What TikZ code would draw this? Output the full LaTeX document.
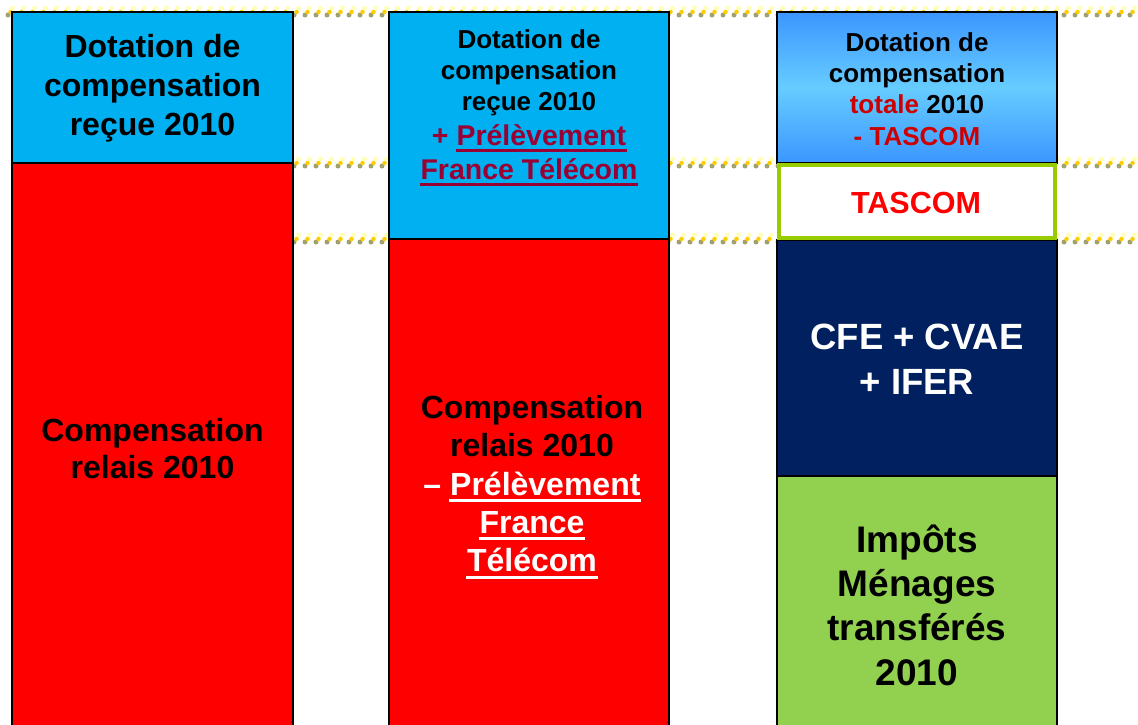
\documentclass[tikz,border=0pt]{standalone}
\usepackage{fontspec}
\setmainfont{Liberation Sans}
\definecolor{lblue}{RGB}{0,176,240}
\definecolor{myred}{RGB}{255,0,0}
\definecolor{navy}{RGB}{0,32,96}
\definecolor{lgreen}{RGB}{146,208,80}
\definecolor{tgreen}{RGB}{153,204,0}
\definecolor{plum}{RGB}{153,0,51}
\definecolor{dred}{RGB}{204,0,0}
\definecolor{gtop}{RGB}{60,150,255}
\definecolor{gmid}{RGB}{102,204,255}
\definecolor{dotyel}{RGB}{255,204,0}
\definecolor{dotgray}{RGB}{160,160,112}
\definecolor{dotpale}{RGB}{255,255,185}
\newcommand\myul[1]{\setbox0\hbox{#1}\rlap{\hspace{-0.03em}\raisebox{-0.21em}{\rule{\dimexpr\wd0+0.06em\relax}{0.095em}}}\box0}
\tikzset{
  colbox/.style={draw=black, line width=2pt, inner sep=0pt, minimum width=281pt},
  dotline/.style={line width=5pt, line cap=round, dash pattern=on 0pt off 11pt},
  lbl/.style={align=center, inner sep=0pt, font=\bfseries},
}
\begin{document}
\begin{tikzpicture}[x=1pt, y=-1pt]
\useasboundingbox (0,0) rectangle (1138,725);
\clip (0,0) rectangle (1138,725);
% dotted guide lines
\foreach \yy/\nm/\xs in {12/a/10.5,163/b/296.5,239/c/296.5}{
  \coordinate (p\nm1) at (\xs+2,\yy-4);
  \coordinate (p\nm2) at (1145,\yy-4);
  \coordinate (g\nm1) at (\xs-2.5,\yy+3);
  \coordinate (g\nm2) at (1145,\yy+3);
  \coordinate (y\nm1) at (\xs,\yy);
  \coordinate (y\nm2) at (1145,\yy);
  \draw[dotline, dotpale] (p\nm1) -- (p\nm2);
  \draw[dotline, dotgray] (g\nm1) -- (g\nm2);
  \draw[dotline, dotyel, line width=4.5pt] (y\nm1) -- (y\nm2);
}
% column 1
\node[colbox, fill=myred, minimum height=567pt] (c1b) at (152.5,446.5) {};
\node[colbox, fill=lblue, minimum height=151pt] (c1h) at (152.5,87.5) {};
% column 2
\node[colbox, fill=myred, minimum width=280pt, minimum height=491pt] (c2b) at (529,484.5) {};
\node[colbox, fill=lblue, minimum width=280pt, minimum height=227pt] (c2h) at (529,125.5) {};
% column 3
\node[colbox, fill=lgreen, minimum width=280pt, minimum height=254pt] (c3g) at (917,603) {};
\node[colbox, fill=navy, minimum width=280pt, minimum height=236pt] (c3n) at (917,358) {};
\node[colbox, top color=gtop, bottom color=gtop, middle color=gmid, minimum width=280pt, minimum height=151pt] (c3h) at (917,87.5) {};
\node[draw=tgreen, line width=4pt, fill=white, inner sep=0pt, minimum width=276pt, minimum height=73pt] (c3t) at (917,201.5) {};
% texts
\node[lbl, font=\bfseries\fontsize{32}{39}\selectfont] (t1h) at (152.5,88) {Dotation de\\compensation\\reçue 2010};
\node[lbl, font=\bfseries\fontsize{32}{37}\selectfont] (t1b) at (152.5,449) {Compensation\\relais 2010};
\node[lbl, font=\bfseries\fontsize{26}{31}\selectfont] (t2h) at (529,73) {Dotation de\\compensation\\reçue 2010};
\node[lbl, text=plum, font=\bfseries\fontsize{28.5}{34}\selectfont] (t2p) at (529,155.5) {+ \myul{Prélèvement}\\\myul{France Télécom}};
\node[lbl, font=\bfseries\fontsize{32}{38.3}\selectfont] (t2b) at (532,487) {Compensation\\relais 2010\\{\color{white}– \myul{Prélèvement}}\\{\color{white}\myul{France}}\\{\color{white}\myul{Télécom}}};
\node[lbl, font=\bfseries\fontsize{26}{31.3}\selectfont] (t3h) at (917,89) {Dotation de\\compensation\\{\color{dred}totale} 2010\\{\color{dred}- TASCOM}};
\node[lbl, text=myred, font=\bfseries\fontsize{30.5}{36}\selectfont] (t3t) at (916,203) {TASCOM};
\node[lbl, text=white, font=\bfseries\fontsize{36.5}{45}\selectfont] (t3n) at (917,359) {CFE + CVAE\\+ IFER};
\node[lbl, font=\bfseries\fontsize{37}{44.3}\selectfont] (t3g) at (917,605) {Impôts\\Ménages\\transférés\\2010};
\end{tikzpicture}
\end{document}
